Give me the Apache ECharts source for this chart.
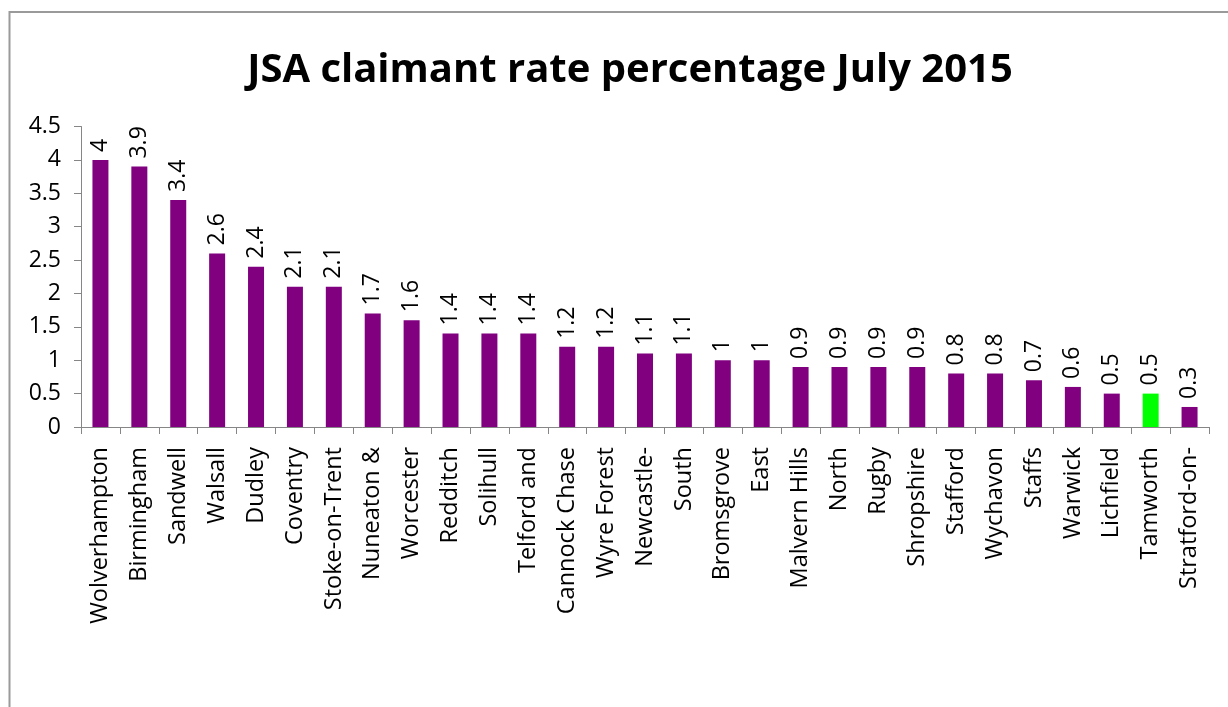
<!DOCTYPE html>
<html>
<head>
<meta charset="utf-8">
<script src="https://cdn.jsdelivr.net/npm/echarts@6/dist/echarts.min.js"></script>
<style>
html,body{margin:0;padding:0;background:#fff;}
#chart{width:1228px;height:707px;}
</style>
</head>
<body>
<div id="chart"></div>
<script>
const titleText = 'JSA claimant rate percentage July 2015';
const categories = ['Wolverhampton','Birmingham','Sandwell','Walsall','Dudley','Coventry','Stoke-on-Trent','Nuneaton &','Worcester','Redditch','Solihull','Telford and','Cannock Chase','Wyre Forest','Newcastle-','South','Bromsgrove','East','Malvern Hills','North','Rugby','Shropshire','Stafford','Wychavon','Staffs','Warwick','Lichfield','Tamworth','Stratford-on-'];
const values = [4,3.9,3.4,2.6,2.4,2.1,2.1,1.7,1.6,1.4,1.4,1.4,1.2,1.2,1.1,1.1,1,1,0.9,0.9,0.9,0.9,0.8,0.8,0.7,0.6,0.5,0.5,0.3];
const highlighted = 'Tamworth';
const yMin = 0, yMax = 4.5, yStep = 0.5;

const FONT = '"Open Sans", sans-serif';
const chart = echarts.init(document.getElementById('chart'), null, {renderer:'canvas'});
chart.setOption({
  backgroundColor:'#fff',
  animation:false,
  title:{
    text:titleText,
    left:625, top:46, textAlign:'center',
    textStyle:{fontFamily:FONT, fontWeight:'bold', fontSize:40, color:'#000'}
  },
  graphic:[{
    type:'rect', silent:true,
    shape:{x:9.5, y:12, width:1240, height:720},
    style:{fill:'none', stroke:'#9a9a9a', lineWidth:2}
  }],
  grid:{left:81, right:19, top:126.5, bottom:280, containLabel:false},
  xAxis:{
    type:'category', data:categories,
    axisLine:{lineStyle:{color:'#868686', width:1}},
    axisTick:{show:true, length:7, lineStyle:{color:'#868686'}},
    axisLabel:{rotate:90, interval:0, margin:20, color:'#000', fontFamily:FONT, fontSize:23.5}
  },
  yAxis:{
    type:'value', min:yMin, max:yMax, interval:yStep,
    axisLine:{show:true, lineStyle:{color:'#868686', width:1}},
    axisTick:{show:true, length:7, lineStyle:{color:'#868686'}},
    splitLine:{show:false},
    axisLabel:{margin:20, color:'#000', fontFamily:FONT, fontSize:23}
  },
  series:[{
    type:'bar',
    barWidth:16,
    data: values.map((v,i)=>({
      value:v,
      itemStyle:{color: categories[i]===highlighted ? '#00ff00' : '#800080'}
    })),
    label:{
      show:true, position:'top', rotate:90, align:'left', verticalAlign:'middle',
      distance:8, color:'#000', fontFamily:FONT, fontSize:23
    }
  }]
});
</script>
</body>
</html>
